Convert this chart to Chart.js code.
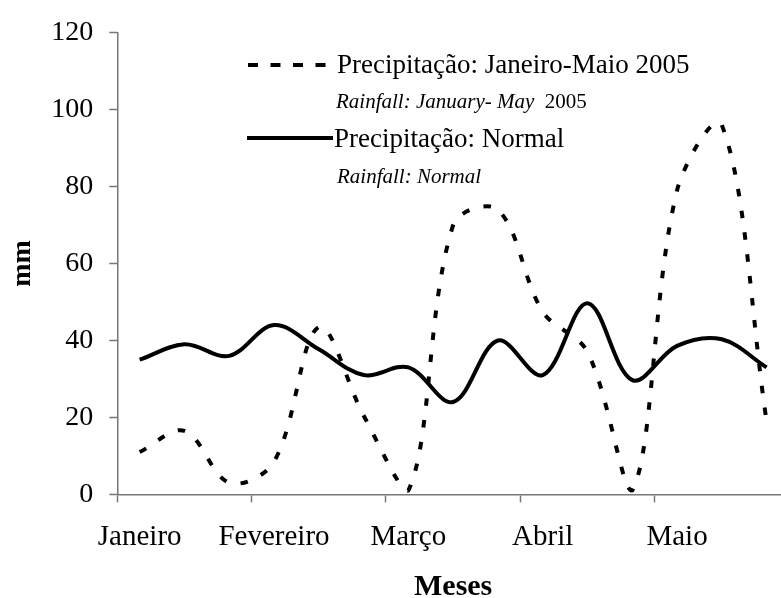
<!DOCTYPE html>
<html>
<head>
<meta charset="utf-8">
<script src="https://cdn.jsdelivr.net/npm/chart.js@4.4.1/dist/chart.umd.min.js"></script>
<style>
  html, body { margin: 0; padding: 0; background: #fff; overflow: hidden; }
  #wrap { width: 800px; height: 598px; }
</style>
</head>
<body>
<div id="wrap"><canvas id="grafico"></canvas></div>
<script>
// três decêndios por mês
const meses = ['Janeiro', 'Fevereiro', 'Março', 'Abril', 'Maio'];
const decendios = ['1', '2', '3'];

// precipitação por decêndio (mm)
const precip2005 = [11, 16.5, 3, 8.5, 43.5, 20.5, 1, 70, 74, 47.5, 37, 1, 79, 96, 19];
const precipNormal = [35, 39, 36, 44, 37.7, 31, 33, 24, 40, 31, 49.7, 29.7, 38.6, 40.3, 33];

const yMin = 0;
const yMax = 120;
const yStep = 20;

const labels = meses.flatMap(m => decendios.map(d => m + ' ' + d));

const serif = '"Liberation Serif", "Times New Roman", serif';
const axisColor = '#777';

// legenda desenhada dentro da área do gráfico
const legenda = {
  id: 'legenda',
  afterDraw(chart) {
    const { ctx } = chart;
    const ds = chart.data.datasets;
    ctx.save();
    ctx.fillStyle = '#000';
    ctx.strokeStyle = '#000';
    ctx.textBaseline = 'alphabetic';

    const sample = (set, x0, x1, y) => {
      ctx.lineWidth = set.borderWidth;
      ctx.setLineDash(set.legendDash || []);
      ctx.beginPath();
      ctx.moveTo(x0, y);
      ctx.lineTo(x1, y);
      ctx.stroke();
      ctx.setLineDash([]);
    };

    sample(ds[0], 248, 327, 65);
    ctx.font = '27px ' + serif;
    ctx.fillText('Precipitação: Janeiro-Maio 2005', 337, 73);

    ctx.font = 'italic 21px ' + serif;
    const sub = 'Rainfall: January- May  ';
    ctx.fillText(sub, 336, 108);
    const w = ctx.measureText(sub).width;
    ctx.font = '21px ' + serif;
    ctx.fillText('2005', 336 + w, 108);

    sample(ds[1], 247, 333, 138);
    ctx.font = '27px ' + serif;
    ctx.fillText('Precipitação: Normal', 334, 146.5);

    ctx.font = 'italic 21px ' + serif;
    ctx.fillText('Rainfall: Normal', 337, 183);
    ctx.restore();
  }
};

new Chart(document.getElementById('grafico'), {
  type: 'line',
  data: {
    labels: labels,
    datasets: [
      {
        label: 'Precipitação: Janeiro-Maio 2005',
        data: precip2005,
        borderColor: '#000',
        borderWidth: 4,
        borderDash: [7.5, 14.5],
        legendDash: [10, 12.5],
        tension: 0.35,
        pointRadius: 0,
        fill: false
      },
      {
        label: 'Precipitação: Normal',
        data: precipNormal,
        borderColor: '#000',
        borderWidth: 4,
        tension: 0.35,
        pointRadius: 0,
        fill: false
      }
    ]
  },
  options: {
    responsive: true,
    maintainAspectRatio: false,
    animation: false,
    layout: { padding: { top: 25, right: 11, bottom: 0, left: 0 } },
    plugins: {
      legend: { display: false },
      tooltip: { enabled: false }
    },
    scales: {
      x: {
        offset: true,
        grid: {
          offset: true,
          drawOnChartArea: false,
          tickLength: 8,
          tickWidth: 1.5,
          tickColor: ctx => ctx.index % 3 === 0 ? axisColor : 'rgba(0,0,0,0)'
        },
        border: { color: axisColor, width: 1.5 },
        ticks: {
          autoSkip: false,
          maxRotation: 0,
          padding: 18,
          color: '#000',
          font: { family: serif, size: 29 },
          callback: (v, i) => i % 3 === 0 ? meses[i / 3] : ''
        },
        title: {
          display: true,
          text: 'Meses',
          color: '#000',
          padding: 0,
          font: { family: serif, size: 30, weight: 'bold', lineHeight: 0.75 }
        },
        afterFit: s => { s.height = 103.7; }
      },
      y: {
        min: yMin,
        max: yMax,
        ticks: {
          stepSize: yStep,
          padding: 16,
          color: '#000',
          font: { family: serif, size: 28 }
        },
        grid: {
          drawOnChartArea: false,
          tickLength: 8,
          tickWidth: 1.5,
          tickColor: axisColor
        },
        border: { color: axisColor, width: 1.5 },
        title: {
          display: true,
          text: 'mm',
          color: '#000',
          padding: { top: 6, bottom: 0 },
          font: { family: serif, size: 28, weight: 'bold' }
        },
        afterFit: s => { s.width = 117.3; }
      }
    }
  },
  plugins: [legenda]
});
</script>
</body>
</html>
